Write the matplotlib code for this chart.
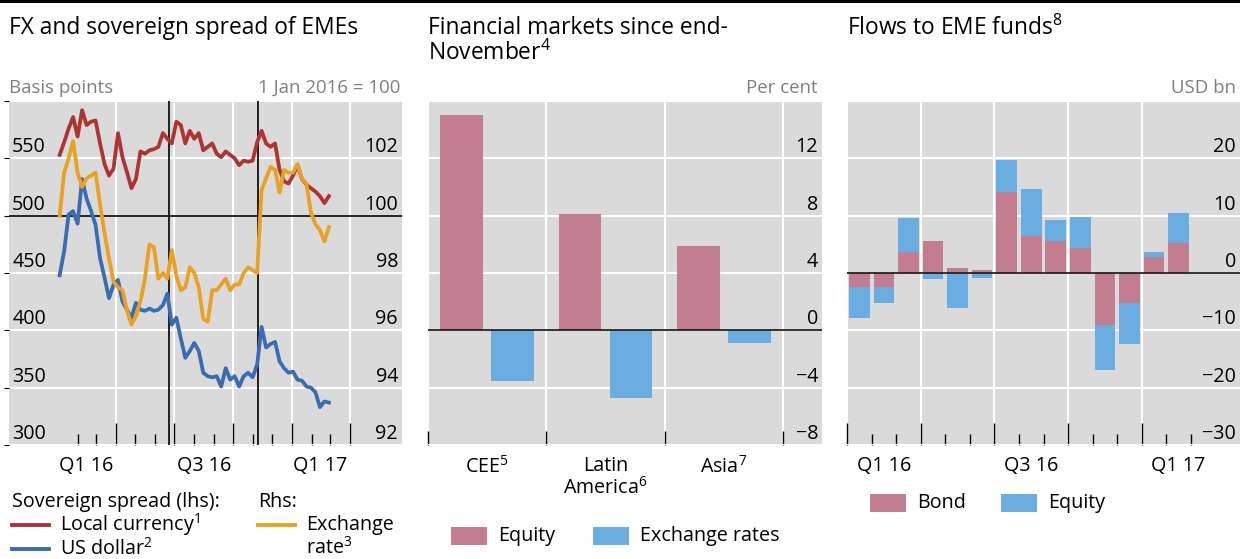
import matplotlib
matplotlib.use('Agg')
import matplotlib.pyplot as plt
import matplotlib.transforms as mtransforms
from matplotlib.lines import Line2D
from matplotlib.patches import Rectangle
import pandas as pd

plt.rcParams['font.family'] = ['Open Sans', 'DejaVu Sans']
plt.rcParams['mathtext.fontset'] = 'custom'
plt.rcParams['mathtext.rm'] = 'Open Sans'
plt.rcParams['mathtext.it'] = 'Open Sans'
plt.rcParams['mathtext.bf'] = 'Open Sans'

W, H = 1240, 559

# ---- data: left panel (weekly, from early Jan 2016) ----
first_week = '2016-01-04'
local_ccy = [553, 564, 576, 586, 569, 592, 579, 582, 583, 563,
             545, 535, 541, 572, 551, 538, 524, 532, 556, 554,
             557, 558, 560, 572, 567, 563, 582, 579, 563, 574,
             567, 572, 557, 560, 563, 554, 551, 556, 553, 550,
             544, 548, 547, 548, 564, 574, 563, 560, 563, 540,
             530, 528, 535, 544, 532, 527, 524, 521, 517, 511,
             517]
us_dollar = [448, 469, 501, 504, 493, 532, 515, 504, 492, 463,
             446, 428, 440, 444, 425, 418, 411, 424, 418, 417,
             419, 417, 418, 422, 432, 405, 411, 393, 376, 382,
             389, 382, 363, 360, 359, 360, 351, 367, 357, 360,
             351, 360, 363, 359, 370, 403, 385, 388, 390, 373,
             367, 363, 364, 357, 356, 351, 350, 346, 333, 338,
             337]
fx_rate = [100.0, 101.5, 102.0, 102.6, 101.5, 101.0, 101.3, 101.4, 101.5, 100.4,
           99.4, 98.5, 97.7, 97.5, 97.4, 96.7, 96.2, 96.5, 97.0, 97.8,
           99.0, 98.9, 97.8, 98.0, 97.8, 98.8, 97.9, 97.4, 97.5, 98.2,
           98.0, 97.5, 96.4, 96.3, 97.4, 97.4, 97.6, 97.8, 97.4, 97.6,
           97.6, 98.0, 98.2, 98.1, 98.0, 100.9, 101.3, 101.7, 101.6, 100.8,
           101.6, 101.5, 101.5, 101.8, 101.3, 101.1, 100.1, 99.7, 99.5, 99.1,
           99.6]
event_dates = ['2016-06-23', '2016-11-08']
lhs_ticks = [300, 350, 400, 450, 500, 550]
rhs_ticks = [92, 94, 96, 98, 100, 102]

# ---- data: middle panel ----
regions = ['CEE$^{5}$', 'Latin\nAmerica$^{6}$', 'Asia$^{7}$']
equity_chg = [15.0, 8.1, 5.9]
fx_chg = [-3.5, -4.7, -0.9]
mid_ticks = [-8, -4, 0, 4, 8, 12]

# ---- data: right panel (monthly, Jan 2016 - Feb 2017) ----
bond_flows = [-2.4, -2.4, 3.6, 5.5, 0.8, 0.5, 14.1, 6.5, 5.6, 4.4, -9.0, -5.3, 2.8, 5.3]
equity_flows = [-5.5, -2.9, 6.0, -1.1, -6.1, -0.9, 5.6, 8.1, 3.6, 5.4, -7.9, -7.1, 0.9, 5.2]
flow_ticks = [-30, -20, -10, 0, 10, 20]

BG = '#dadada'
PINK = '#c27e8e'
SKY = '#6aade0'
RED = '#ad3430'
BLUE = '#3b6bb0'
ORANGE = '#e9a124'
UNIT = '#7f7f7f'
FS = 14.2
LW = 2.7


def fx(x):
    return x / W


def fy(y):
    return 1 - y / H


def panel(x0, y0, x1, y1):
    a = fig.add_axes([fx(x0), fy(y1), (x1 - x0) / W, (y1 - y0) / H])
    a.set_facecolor(BG)
    for s in a.spines.values():
        s.set_visible(False)
    a.set_axisbelow(True)
    return a


def inner_labels(a, values, xpos, ha):
    tr = mtransforms.blended_transform_factory(a.transAxes, a.transData)
    for v in values:
        lab = str(v).replace('-', '\u2212')
        a.annotate(lab, xy=(xpos, v), xycoords=tr, xytext=(0, 4.3),
                   textcoords='offset points', ha=ha, va='baseline', fontsize=FS)


fig = plt.figure(figsize=(W / 100, H / 100), dpi=100)
fig.add_artist(Rectangle((0, fy(2.5)), 1, 2.5 / H, transform=fig.transFigure,
                         color='black', lw=0))

# ================= left panel =================
ax = panel(9, 101, 402, 445)
dates = pd.date_range(first_week, periods=len(local_ccy), freq='7D')
ax.plot(dates, local_ccy, color=RED, lw=LW, zorder=3)
ax.plot(dates, us_dollar, color=BLUE, lw=LW, zorder=3)
ax.set_ylim(300, 600)
ax.set_xlim(pd.Timestamp('2015-10-17'), pd.Timestamp('2017-06-21'))
ax.set_yticks(lhs_ticks + [600])
major = pd.to_datetime(['2016-04-01', '2016-07-01', '2016-10-01', '2017-01-01', '2017-04-01'])
minor = pd.to_datetime(['2016-02-01', '2016-03-01', '2016-05-01', '2016-06-01', '2016-08-01',
                        '2016-09-01', '2016-11-01', '2016-12-01', '2017-02-01', '2017-03-01'])
ax.set_xticks(major)
ax.set_xticks(minor, minor=True)
ax.tick_params(axis='y', left=False, labelleft=False)
ax.tick_params(axis='x', which='major', direction='in', length=16, width=1, color='black',
               labelbottom=False)
ax.tick_params(axis='x', which='minor', direction='in', length=8, width=1, color='black')
ax.grid(True, which='major', color='white', lw=1.5)
ax.axhline(500, color='black', lw=1.2, zorder=2)
for d in event_dates:
    ax.axvline(pd.Timestamp(d), color='black', lw=1.2, zorder=2)

ax2 = ax.twinx()
ax2.plot(dates, fx_rate, color=ORANGE, lw=LW, zorder=3)
ax2.set_ylim(92, 104)
ax2.set_yticks([])
for s in ax2.spines.values():
    s.set_visible(False)

inner_labels(ax, lhs_ticks, 0.008, 'left')
inner_labels(ax2, rhs_ticks, 0.99, 'right')
trq = mtransforms.blended_transform_factory(ax.transData, ax.transAxes)
for d, q in zip(['2016-02-15', '2016-08-16', '2017-02-14'], ['Q1 16', 'Q3 16', 'Q1 17']):
    ax.text(pd.Timestamp(d), -0.06, q, transform=trq, ha='center', va='center', fontsize=FS)

# ================= middle panel =================
bx = panel(428, 101, 822, 445)
pos = list(range(len(regions)))
bx.bar([p - 0.215 for p in pos], equity_chg, width=0.36, color=PINK, zorder=2)
bx.bar([p + 0.215 for p in pos], fx_chg, width=0.36, color=SKY, zorder=2)
bx.set_xlim(-0.5, 2.83)
bx.set_ylim(-8, 16)
bx.set_yticks(mid_ticks + [16])
bx.set_xticks([-0.5, 0.5, 1.5, 2.5])
bx.tick_params(axis='y', left=False, labelleft=False)
bx.tick_params(axis='x', direction='in', length=10, width=1, color='black', labelbottom=False)
bx.grid(True, color='white', lw=1.5)
bx.axhline(0, color='#222222', lw=1.3, zorder=3)
inner_labels(bx, mid_ticks, 0.99, 'right')
trc = mtransforms.blended_transform_factory(bx.transData, bx.transAxes)
for p, r in zip(pos, regions):
    bx.text(p, -0.033, r, transform=trc, ha='center', va='top', fontsize=FS, linespacing=1.05)

# ================= right panel =================
cx = panel(847, 101, 1240, 445)
xs = [i + 0.5 for i in range(len(bond_flows))]
eq_bottom = [b if (b >= 0) == (e >= 0) else 0 for b, e in zip(bond_flows, equity_flows)]
cx.bar(xs, bond_flows, width=0.84, color=PINK, zorder=2)
cx.bar(xs, equity_flows, width=0.84, bottom=eq_bottom, color=SKY, zorder=2)
cx.set_xlim(0, 16)
cx.set_ylim(-30, 30)
cx.set_yticks(flow_ticks + [30])
cx.set_xticks([0, 3, 6, 9, 12])
cx.set_xticks([1, 2, 4, 5, 7, 8, 10, 11, 13, 14], minor=True)
cx.tick_params(axis='y', left=False, labelleft=False)
cx.tick_params(axis='x', which='major', direction='in', length=16, width=1, color='black',
               labelbottom=False)
cx.tick_params(axis='x', which='minor', direction='in', length=8, width=1, color='black')
cx.grid(True, which='major', color='white', lw=1.5)
cx.axhline(0, color='#222222', lw=1.3, zorder=3)
inner_labels(cx, flow_ticks, 0.99, 'right')
trr = mtransforms.blended_transform_factory(cx.transData, cx.transAxes)
for m, q in zip([1.5, 7.5, 13.5], ['Q1 16', 'Q3 16', 'Q1 17']):
    cx.text(m, -0.06, q, transform=trr, ha='center', va='center', fontsize=FS)

# ================= titles and units =================
TS = 16.4
fig.text(fx(9), fy(28), 'FX and sovereign spread of EMEs', fontsize=TS, va='center')
fig.text(fx(428), fy(28), 'Financial markets since end-', fontsize=TS, va='center')
fig.text(fx(428), fy(53), 'November$^{4}$', fontsize=TS, va='center')
fig.text(fx(847), fy(28), 'Flows to EME funds$^{8}$', fontsize=TS, va='center')
US = 13.4
fig.text(fx(9), fy(88), 'Basis points', fontsize=US, color=UNIT, va='center')
fig.text(fx(400), fy(88), '1 Jan 2016 = 100', fontsize=US, color=UNIT, va='center', ha='right')
fig.text(fx(818), fy(88), 'Per cent', fontsize=US, color=UNIT, va='center', ha='right')
fig.text(fx(1236), fy(88), 'USD bn', fontsize=US, color=UNIT, va='center', ha='right')

# ================= legends =================
fig.text(fx(12), fy(502), 'Sovereign spread (lhs):', fontsize=FS, va='center')
fig.text(fx(258), fy(502), 'Rhs:', fontsize=FS, va='center')
for y, c, lab in [(525, RED, 'Local currency$^{1}$'), (549, BLUE, 'US dollar$^{2}$')]:
    fig.add_artist(Line2D([fx(12), fx(49)], [fy(y), fy(y)], color=c, lw=2.8,
                          transform=fig.transFigure))
    fig.text(fx(60), fy(y), lab, fontsize=FS, va='center')
fig.add_artist(Line2D([fx(258), fx(295)], [fy(525), fy(525)], color=ORANGE, lw=2.8,
                      transform=fig.transFigure))
fig.text(fx(306), fy(525), 'Exchange', fontsize=FS, va='center')
fig.text(fx(306), fy(548), 'rate$^{3}$', fontsize=FS, va='center')

for x0, y, c, lab in [(451, 536, PINK, 'Equity'), (593, 536, SKY, 'Exchange rates'),
                      (870, 503, PINK, 'Bond'), (1001, 503, SKY, 'Equity')]:
    fig.add_artist(Rectangle((fx(x0), fy(y + 9)), 36 / W, 18 / H, color=c, lw=0,
                             transform=fig.transFigure))
    fig.text(fx(x0 + 47), fy(y), lab, fontsize=FS, va='center')

fig.savefig('out.png', dpi=100)
